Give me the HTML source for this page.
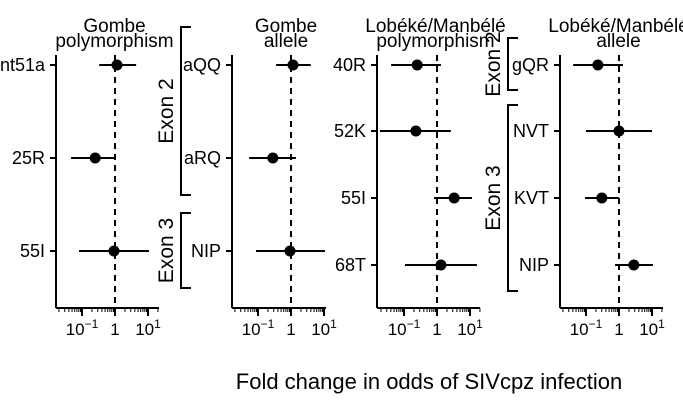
<!DOCTYPE html>
<html><head><meta charset="utf-8"><style>
body{margin:0;background:#fff}
svg{display:block;font-family:"Liberation Sans",sans-serif}
</style></head><body>
<svg id="c" width="683" height="400"></svg>
<script>
const panelTitles=[["Gombe","polymorphism"],["Gombe","allele"],["Lobéké/Manbélé","polymorphism"],["Lobéké/Manbélé","allele"]];
const cats1=["nt51a","25R","55I"];
const est1=[0.06,-0.6,-0.03],lo1=[-0.48,-1.33,-1.09],hi1=[0.64,0.03,1.03];
const cats2=["aQQ","aRQ","NIP"];
const est2=[0.06,-0.55,-0.03],lo2=[-0.45,-1.27,-1.06],hi2=[0.6,0.15,1.03];
const cats3=["40R","52K","55I","68T"];
const est3=[-0.6,-0.64,0.52,0.12],lo3=[-1.39,-1.73,-0.09,-0.97],hi3=[0.12,0.42,1.06,1.21];
const cats4=["gQR","NVT","KVT","NIP"];
const est4=[-0.64,0,-0.52,0.45],lo4=[-1.39,-1,-1.03,-0.12],hi4=[0.12,1,0,1.03];
const tickLabels=["10","1","10"];

const NS="http://www.w3.org/2000/svg",svg=document.getElementById('c');
function el(t,a,p){const e=document.createElementNS(NS,t);for(const k in a)e.setAttribute(k,a[k]);(p||svg).appendChild(e);return e;}
const panels=[
 {ax:56,zero:115,right:159,rows:[65,158,251],cats:cats1,est:est1,lo:lo1,hi:hi1},
 {ax:232,zero:291,right:326,rows:[65,158,251],cats:cats2,est:est2,lo:lo2,hi:hi2},
 {ax:377,zero:437,right:480,rows:[65,131,198,265],cats:cats3,est:est3,lo:lo3,hi:hi3},
 {ax:560,zero:619,right:663,rows:[65,131,198,265],cats:cats4,est:est4,lo:lo4,hi:hi4}];
const DEC=33,AXY=308,TOP=55;
panels.forEach((p,i)=>{
 const g=el('g',{});
 
 
 const X=v=>p.zero+v*DEC;
 const cx=(p.ax+p.right)/2;
 panelTitles[i].forEach((t,j)=>{const tx=el('text',{x:cx+7,y:32+j*15,'text-anchor':'middle','font-size':19},g);tx.textContent=t;
  });
 el('line',{x1:p.ax,y1:TOP,x2:p.ax,y2:AXY,stroke:'#000','stroke-width':2},g);
 el('line',{x1:p.ax,y1:AXY,x2:p.right,y2:AXY,stroke:'#000','stroke-width':2},g);
 el('line',{x1:X(0),y1:TOP,x2:X(0),y2:AXY,stroke:'#000','stroke-width':2,'stroke-dasharray':'6,5'},g);
 for(let d=-2;d<=1;d++)for(let m=1;m<=9;m++){
  const x=X(d+Math.log10(m));if(x<p.ax||x>p.right+0.5)continue;
  const major=m==1&&d>=-1;
  el('line',{x1:x,y1:AXY,x2:x,y2:AXY+(major?8:4),stroke:'#000','stroke-width':major?2:1},g);}
 [-1,0,1].forEach((d,k)=>{const t=el('text',{x:X(d),y:335,'text-anchor':'middle','font-size':17},g);
  t.textContent=tickLabels[k];
  
  if(d!==0){const s=el('tspan',{dy:-7,'font-size':12},t);s.textContent=d<0?'−1':'1';}});
 p.cats.forEach((c,r)=>{
  const y=p.rows[r];
  el('line',{x1:p.ax-6,y1:y,x2:p.ax,y2:y,stroke:'#000','stroke-width':2},g);
  const t=el('text',{x:p.ax-11,y:y+6,'text-anchor':'end','font-size':18},g);t.textContent=c;
  
  const l=el('line',{x1:X(p.lo[r]),y1:y,x2:X(p.hi[r]),y2:y,stroke:'#000','stroke-width':2},g);
  
  const pt=el('circle',{cx:X(p.est[r]),cy:y,r:5.5,fill:'#000'},g);
  
 });
});
function bracket(x,y1,y2,label){
 const g=el('g',{});
 
 
 el('path',{d:`M${x+10},${y1}H${x}V${y2}H${x+10}`,fill:'none',stroke:'#000','stroke-width':2},g);
 const t=el('text',{transform:`translate(${x-8},${(y1+y2)/2}) rotate(-90)`,'text-anchor':'middle','font-size':21},g);t.textContent=label;
}
bracket(181,27,195,'Exon 2');bracket(181,213,288,'Exon 3');
bracket(508,38,90,'Exon 2');bracket(508,105,291,'Exon 3');
const at=el('text',{x:429,y:389,'text-anchor':'middle','font-size':22});at.textContent='Fold change in odds of SIVcpz infection';

</script>
</body></html>
